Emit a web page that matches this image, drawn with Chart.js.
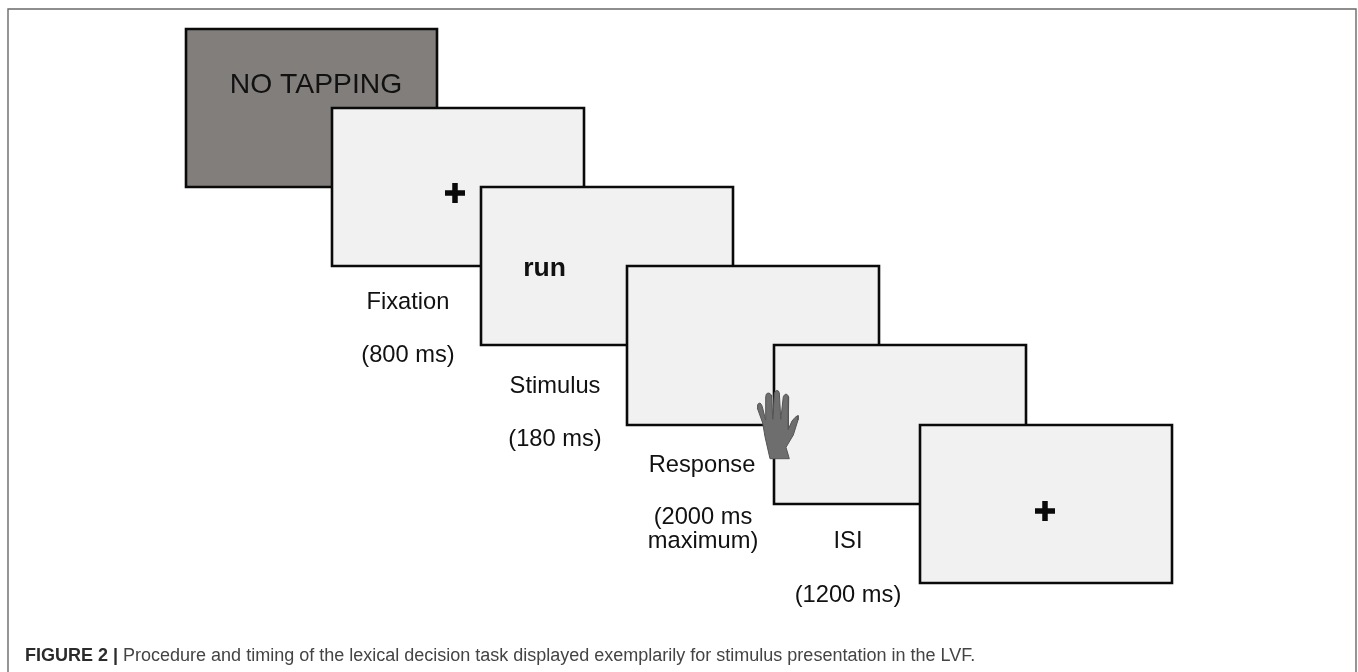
<!DOCTYPE html>
<html><head><meta charset="utf-8">
<style>html,body{margin:0;padding:0;background:#fff}canvas{display:block}</style>
<script src="https://cdn.jsdelivr.net/npm/chart.js@4"></script>
</head><body><canvas id="c" width="1358" height="672"></canvas>
<script>
// Screens in the sequence: left, top, right, bottom, on the picture's own scale
const screenNames = ['No tapping','Fixation','Stimulus','Response','ISI','Next fixation'];
const screenLeft   = [186,332,481,627,774,920];
const screenTop    = [29,108,187,266,345,425];
const screenRight  = [437,584,733,879,1026,1172];
const screenBottom = [187,266,345,425,504,583];
const screenFill   = ['#827e7c','#f1f1f1','#f1f1f1','#f1f1f1','#f1f1f1','#f1f1f1'];
const crossX = [455,1045];
const crossY = [193,511];
const frameX = [8,8,1356,1356];
const frameY = [672,9,9,672];
const handX = [770,765,762.7,757.3,757.6,758.4,760,761.4,762.3,765.6,765.7,766.4,768,770,771.2,771.6,772.8,774.3,775,776.7,778.4,779.3,780.8,783.3,784.4,786,787.6,788.7,788.3,792,795,797,798.3,798,793.3,786,789.3,770];
const handY = [458.7,436.7,423,408,405,403.6,403,404.5,406.7,420,396.7,394,393,393.5,395,397,419.3,394,391.6,390.4,391,393,419.3,396.7,395,394,395,397,429.3,421,417.5,416,415.7,420,435,447.3,458.7,458.7];
const labelText = ['NO TAPPING','run','Fixation','(800 ms)','Stimulus','(180 ms)','Response','(2000 ms','maximum)','ISI','(1200 ms)'];
const labelX = [316,544.5,408,408,555,555,702,703,703,848,848];
const labelY = [93,276,309,362,393,446,472,524,548,548,602];
const labelFont = ['28.3px','bold 26.5px','23.7px','23.7px','23.7px','23.7px','23.7px','23.7px','23.7px','23.7px','23.7px'];
const captionBold = 'FIGURE 2 | ';
const captionText = 'Procedure and timing of the lexical decision task displayed exemplarily for stimulus presentation in the LVF.';

const datasets = [];
screenNames.forEach((n,i)=>{
  const l=screenLeft[i],t=screenTop[i],r=screenRight[i],b=screenBottom[i];
  datasets.push({label:n,type:'line',parsing:false,
    data:[{x:l,y:t},{x:r,y:t},{x:r,y:b},{x:l,y:b},{x:l,y:t}],
    borderColor:'#0a0a0a',borderWidth:2.6,backgroundColor:screenFill[i],fill:'shape',
    pointRadius:0,tension:0,borderJoinStyle:'miter',borderCapStyle:'square',order:100-i});
});
datasets.push({label:'Frame',type:'line',parsing:false,data:frameX.map((x,i)=>({x,y:frameY[i]})),
  borderColor:'#6a6a6a',borderWidth:1.4,fill:false,pointRadius:0,tension:0,order:110});
datasets.push({label:'Hand',type:'line',parsing:false,data:handX.map((x,i)=>({x,y:handY[i]})),
  borderColor:'#555',borderWidth:1,backgroundColor:'#6e6e6e',fill:'shape',pointRadius:0,tension:0,order:5});
datasets.push({label:'Fixation cross',type:'scatter',parsing:false,data:crossX.map((x,i)=>({x,y:crossY[i]})),
  pointStyle:'cross',pointRadius:10,pointBorderColor:'#0a0a0a',pointBorderWidth:5.5,showLine:false,order:4,
  borderColor:'#0a0a0a',backgroundColor:'#0a0a0a'});

const textPlugin={id:'texts',afterDatasetsDraw(ch){
  const c=ch.ctx,x=ch.scales.x,y=ch.scales.y;
  c.save();c.textBaseline='alphabetic';c.textAlign='center';c.fillStyle='#111';
  labelText.forEach((s,i)=>{c.font=labelFont[i]+' "Liberation Sans"';c.fillText(s,x.getPixelForValue(labelX[i]),y.getPixelForValue(labelY[i]));});
  c.textAlign='left';c.fillStyle='#2b2b2b';
  c.font='bold 18px "Liberation Sans"';
  const cx=x.getPixelForValue(25),cy=y.getPixelForValue(661);
  c.fillText(captionBold,cx,cy);
  const w=c.measureText(captionBold).width;
  c.font='18px "Liberation Sans"';c.fillStyle='#444';
  c.fillText(captionText,cx+w,cy);
  c.restore();
}};

new Chart(document.getElementById('c'),{
  data:{datasets},
  plugins:[textPlugin],
  options:{responsive:false,animation:false,layout:{padding:0,autoPadding:false},
    plugins:{legend:{display:false},tooltip:{enabled:false},title:{display:false}},
    scales:{
      x:{type:'linear',min:0,max:1358,display:false},
      y:{type:'linear',min:0,max:672,reverse:true,display:false}
    }}
});
</script></body></html>
